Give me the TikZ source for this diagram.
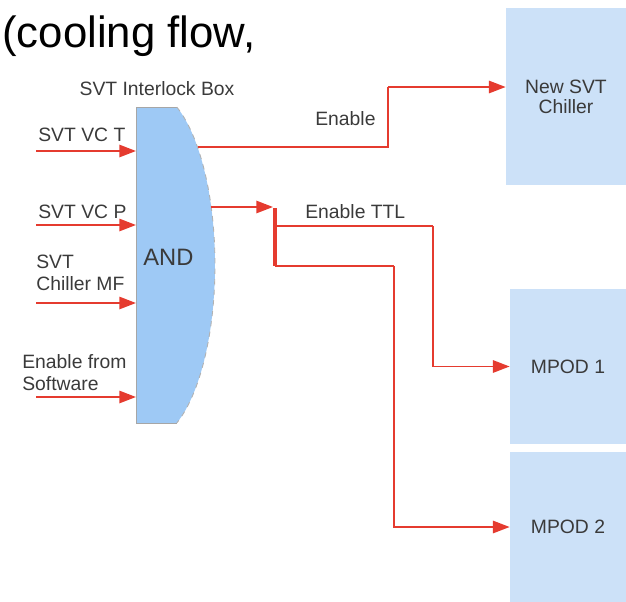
\documentclass[tikz,border=0pt]{standalone}
\usepackage{fontspec}
\setmainfont{Liberation Sans}
\usetikzlibrary{arrows.meta}

\definecolor{sigred}{HTML}{E53B2F}
\definecolor{gatefill}{HTML}{9EC9F5}
\definecolor{boxfill}{HTML}{CCE1F8}
\definecolor{txtgrey}{HTML}{3A3A3A}

\tikzset{
    sig/.style={draw=sigred, line width=1.1pt, -{Triangle[length=9.5pt,width=7pt]}},
    wire/.style={draw=sigred, line width=1.1pt},
    lbl/.style={text=txtgrey, font=\fontsize{11}{12.5}\selectfont, inner sep=0pt},
    unitbox/.style={fill=boxfill, draw=none, text=txtgrey, align=center,
        font=\fontsize{11}{11.5}\selectfont, inner sep=0pt},
}

\begin{document}
\begin{tikzpicture}[x=0.02cm, y=-0.02cm]
        \useasboundingbox (0, 0) rectangle (626, 602);

        % interlock gate
        \fill[gatefill] (136, 107) -- plot[domain=-64.5:64.5, variable=\t, samples=60]
            ({148+67*cos(\t)}, {265+175*sin(\t)}) -- (136, 423) -- cycle;
        \draw[gray!70, line width=0.5pt] (177, 107) -- (136, 107) -- (136, 423) -- (177, 423);
        \draw[gray!60, dashed, line width=0.5pt] plot[domain=-64.5:64.5, variable=\t, samples=60]
            ({148+67*cos(\t)}, {265+175*sin(\t)});
        \node[lbl, font=\fontsize{13.5}{14}\selectfont, anchor=base west] (andlbl) at (143, 265) {AND};
        \node[lbl, anchor=base] (boxlbl) at (157, 95) {SVT Interlock Box};

        % units
        \node[unitbox, minimum width=2.4cm, minimum height=3.54cm] (chiller) at (566, 96.5) {New SVT\\Chiller};
        \node[unitbox, minimum width=2.32cm, minimum height=3.1cm] (mpodA) at (568, 366.5) {MPOD 1};
        \node[unitbox, minimum width=2.32cm, minimum height=3.0cm] (mpodB) at (568, 527) {MPOD 2};

        % title fragment
        \node[inner sep=0pt, anchor=base west, font=\fontsize{24.9}{26}\selectfont] (title) at (2, 47) {(cooling flow,};

        % inputs
        \coordinate (s1) at (36, 151);
        \coordinate (s2) at (36, 225);
        \coordinate (s3) at (36, 303);
        \coordinate (s4) at (36, 397);
        \coordinate (g1) at (136, 151);
        \coordinate (g2) at (136, 225);
        \coordinate (g3) at (136, 303);
        \coordinate (g4) at (136, 397);

        \draw[sig] (s1) -- (g1);
        \draw[sig] (s2) -- (g2);
        \draw[sig] (s3) -- (g3);
        \draw[sig] (s4) -- (g4);

        \node[lbl, anchor=base west] (inT) at (38, 141) {SVT VC T};
        \node[lbl, anchor=base west] (inP) at (38, 218) {SVT VC P};
        \node[lbl, anchor=north west, align=left] (inMF) at (36, 255) {SVT\\Chiller MF};
        \node[lbl, anchor=north west, align=left] (inSW) at (22, 354) {Enable from\\Software};

        % enable to chiller
        \coordinate (o1) at (198, 147);
        \coordinate (k1) at (388, 87);
        \draw[wire] (o1) -| (k1);
        \draw[sig] (k1) -- (k1 -| chiller.west);
        \node[lbl, anchor=base west] (en) at (315, 125) {Enable};

        % enable TTL to the MPODs
        \coordinate (o2) at (211, 207);
        \coordinate (j0) at (273, 207);
        \coordinate (j1) at (275, 226);
        \coordinate (j2) at (275, 266);
        \coordinate (k2) at (433, 226);
        \coordinate (k3) at (394, 266);
        \draw[sig] (o2) -- (j0);
        \draw[draw=sigred, line width=2.8pt] (275, 208) -- (j2);
        \draw[wire] (j1) -- (k2);
        \draw[sig] (k2) |- (mpodA.west);
        \draw[wire] (j2) -- (k3);
        \draw[sig] (k3) |- (mpodB.west);
        \node[lbl, anchor=base west] (ttl) at (305, 218) {Enable TTL};
\end{tikzpicture}
\end{document}
